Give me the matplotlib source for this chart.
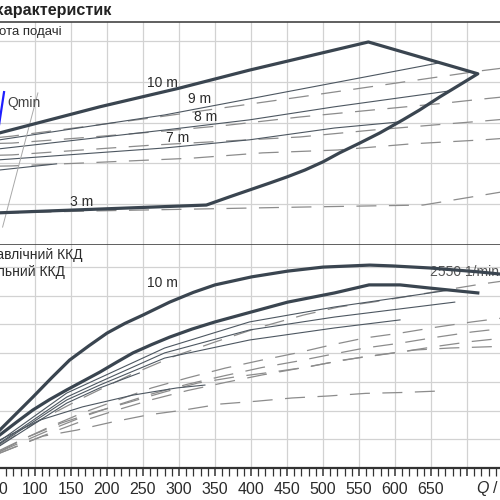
import matplotlib
matplotlib.use('Agg')
import matplotlib.pyplot as plt
from matplotlib.ticker import MultipleLocator

plt.rcParams['font.family'] = ['Liberation Sans', 'DejaVu Sans']
plt.rcParams['mathtext.fontset'] = 'custom'
plt.rcParams['mathtext.rm'] = 'Liberation Sans'
plt.rcParams['mathtext.it'] = 'Liberation Sans:italic'

#-----------------------------------------------------------------------------
## Upper panel (head), one unit per grid line
#-----------------------------------------------------------------------------
env_q = [0, 51, 190, 301, 398, 563, 715, 690, 662, 634, 611, 579, 551, 523, 500, 475,
         450, 426, 398, 370, 338, 51, 0]
env_h = [2.50, 2.75, 3.39, 3.85, 4.29, 4.98, 4.20, 3.93, 3.63, 3.31, 3.07, 2.75, 2.50, 2.26,
         2.04, 1.84, 1.67, 1.52, 1.35, 1.18, 0.98, 0.79, 0.74]

h9_q = [0, 51, 280, 516, 662]
h9_h = [2.45, 2.58, 3.19, 3.98, 4.47]
h8_q = [0, 51, 280, 398, 516, 676]
h8_h = [2.27, 2.36, 2.82, 3.07, 3.39, 3.78]
h7_q = [0, 51, 280, 398, 516, 607]
h7_h = [2.02, 2.09, 2.38, 2.58, 2.87, 3.02]
h6_q = [0, 51, 130]
h6_h = [1.78, 1.84, 1.99]

d1_q = [0, 68, 263, 468, 718, 800]
d1_h = [2.55, 2.67, 3.12, 3.63, 4.27, 4.45]
d2_q = [0, 68, 165, 263, 368, 468, 568, 669, 721, 800]
d2_h = [2.47, 2.50, 2.63, 2.77, 2.94, 3.14, 3.31, 3.48, 3.58, 3.72]
d3_q = [0, 68, 165, 263, 468, 569, 672, 722, 800]
d3_h = [2.18, 2.21, 2.33, 2.45, 2.65, 2.82, 2.97, 3.04, 3.16]
d4_q = [0, 68, 165, 318, 416, 520, 622, 723, 800]
d4_h = [1.92, 1.94, 2.01, 2.13, 2.26, 2.33, 2.48, 2.58, 2.68]
d5_q = [0, 165, 318, 469, 570, 639, 741, 800]
d5_h = [0.76, 0.83, 0.88, 0.93, 0.96, 0.98, 1.28, 1.45]

qmin_q = [50, 57]
qmin_h = [2.94, 3.75]
sys_q = [104, 55]
sys_h = [3.73, 0.44]

#-----------------------------------------------------------------------------
## Lower panel (efficiency, %)
#-----------------------------------------------------------------------------
hyd_q = [0, 25, 51, 75, 97, 123, 148, 175, 200, 225, 250, 287, 320, 350, 401, 451, 500,
         565, 597, 648, 718, 760]
hyd_e = [0, 6.8, 13.2, 19.2, 24.7, 31.4, 37.6, 42.6, 47.0, 50.4, 53.3, 57.8, 61.2, 63.8,
         66.6, 68.6, 70.0, 70.7, 70.4, 69.7, 68.3, 67.2]
tot_q = [0, 25, 51, 75, 97, 120, 144, 167, 190, 213, 236, 262, 287, 318, 350, 401, 451,
         516, 564, 607, 648, 715]
tot_e = [0, 5.9, 11.5, 16.1, 20.2, 23.8, 27.2, 30.3, 33.4, 36.8, 40.1, 43.0, 45.6, 48.4,
         50.9, 54.4, 57.8, 61.0, 63.8, 63.8, 62.7, 61.0]

e9_q = [0, 51, 144, 190, 280, 398, 516, 676]
e9_e = [0, 9.4, 26.1, 31.4, 41.8, 50.9, 56.1, 62.0]
e8_q = [0, 51, 144, 190, 280, 398, 516, 683]
e8_e = [0, 8.7, 24.7, 30.0, 40.1, 48.1, 52.6, 57.8]
e7_q = [0, 51, 144, 190, 280, 398, 516, 607]
e7_e = [0, 8.4, 23.7, 28.9, 38.3, 44.6, 48.8, 51.6]
e6_q = [0, 51, 144, 190, 245]
e6_e = [0, 7.7, 22.6, 27.9, 33.1]
e3_q = [0, 51, 107, 166, 236, 297, 336]
e3_e = [0, 9.8, 16.7, 21.3, 25.4, 27.9, 28.9]

f_q = [0, 51, 107, 166, 232, 294, 350, 409, 473, 522, 569, 620, 669, 720, 760]
f_e = [0, 8.0, 16.7, 24.4, 32.4, 39.0, 43.9, 48.8, 53.3, 56.1, 57.8, 59.9, 62.0, 64.1, 65.5]
g1_q = [0, 72, 120, 166, 215, 262, 312, 364, 415, 464, 512, 558, 607, 658, 707, 760]
g1_e = [0, 8.7, 14.3, 19.2, 23.7, 27.9, 31.4, 34.8, 37.6, 40.1, 42.9, 45.3, 47.0, 49.1, 50.9, 52.6]
g2_q = [0, 72, 120, 166, 215, 262, 312, 364, 415, 464, 512, 558, 607, 658, 707, 760]
g2_e = [0, 8.0, 13.2, 17.8, 22.0, 25.8, 29.2, 32.2, 35.0, 37.2, 39.6, 41.8, 43.5, 45.6, 47.4, 48.9]
g3_q = [0, 72, 120, 166, 215, 262, 312, 364, 415, 464, 512, 558, 607, 658, 707, 760]
g3_e = [0, 7.3, 12.1, 16.4, 20.3, 23.8, 27.0, 29.8, 32.4, 34.6, 36.8, 38.8, 40.4, 42.4, 44.1, 45.5]
g4_q = [0, 55, 90, 137, 183, 232, 280, 326, 377, 429, 479, 527, 579, 627, 676, 725, 760]
g4_e = [0, 6.3, 10.8, 15.7, 19.5, 23.0, 26.5, 29.6, 31.7, 33.4, 35.2, 37.6, 39.4, 41.1, 41.8, 42.2, 42.5]
low_q = [0, 51, 111, 158, 207, 257, 307, 358, 409, 457, 508, 559, 609, 659]
low_e = [0, 5.2, 11.1, 13.2, 16.0, 18.5, 20.2, 22.3, 23.3, 24.4, 25.1, 26.0, 26.3, 26.8]

q_ticks = list(range(0, 801, 50))
q_labels = [str(q) if 50 <= q <= 650 else '' for q in q_ticks]

#-----------------------------------------------------------------------------
## Figure
#-----------------------------------------------------------------------------
dark = '#3a4550'
thin = '#4d5761'
dash = '#8c8c8c'
grid = '#d2d2d2'
txt = '#2b2b2b'
dstyle = (0, (16, 10))

fig = plt.figure(figsize=(5, 5), dpi=100)
ax1 = fig.add_axes([-0.074, 0.51, 1.152, 0.446])
ax2 = fig.add_axes([-0.074, 0.064, 1.152, 0.446])

for ax in (ax1, ax2):
    ax.set_xlim(0, 800)
    ax.set_xticks(q_ticks)
    ax.grid(True, color=grid, lw=0.9)
    ax.set_axisbelow(True)
    ax.spines['left'].set_visible(False)
    ax.spines['right'].set_visible(False)
    ax.tick_params(axis='y', length=0, labelleft=False)

ax1.set_ylim(0, 5.47)
ax1.set_yticks([1, 2, 3, 4, 5])
ax1.tick_params(axis='x', length=0, labelbottom=False)
ax1.spines['top'].set_color('#444444')
ax1.spines['top'].set_linewidth(1.2)
ax1.spines['bottom'].set_color('#444444')
ax1.spines['bottom'].set_linewidth(1.2)

ax2.set_ylim(0, 77.7)
ax2.set_yticks([10, 20, 30, 40, 50, 60, 70])
ax2.spines['top'].set_visible(False)
ax2.spines['bottom'].set_color('#333333')
ax2.spines['bottom'].set_linewidth(1.6)
ax2.set_xticklabels(q_labels, fontsize=11.5, color=txt)
ax2.xaxis.set_minor_locator(MultipleLocator(10))
ax2.tick_params(axis='x', which='major', length=6, width=1.1, color='#333333', pad=4)
ax2.tick_params(axis='x', which='minor', length=6, width=0.9, color='#333333')

# upper panel curves
for q, h in [(d1_q, d1_h), (d2_q, d2_h), (d3_q, d3_h), (d4_q, d4_h), (d5_q, d5_h)]:
    ax1.plot(q, h, color=dash, lw=0.9, ls=dstyle)
for q, h in [(h9_q, h9_h), (h8_q, h8_h), (h7_q, h7_h), (h6_q, h6_h)]:
    ax1.plot(q, h, color=thin, lw=0.8)
ax1.plot(sys_q, sys_h, color='#a8a8a8', lw=0.7)
ax1.plot(env_q, env_h, color=dark, lw=2.3, solid_joinstyle='round')
ax1.plot(qmin_q, qmin_h, color='#1f1fff', lw=1.6)

ax1.text(277, 3.98, '10 m', ha='center', va='center', fontsize=10, color=txt)
ax1.text(329, 3.58, '9 m', ha='center', va='center', fontsize=10, color=txt)
ax1.text(337, 3.14, '8 m', ha='center', va='center', fontsize=10, color=txt)
ax1.text(298, 2.63, '7 m', ha='center', va='center', fontsize=10, color=txt)
ax1.text(165, 1.06, '3 m', ha='center', va='center', fontsize=10, color=txt)
ax1.text(61, 3.48, 'Qmin', ha='left', va='center', fontsize=10, color='#444444')

# lower panel curves
for q, e in [(f_q, f_e), (g1_q, g1_e), (g2_q, g2_e), (g3_q, g3_e), (g4_q, g4_e), (low_q, low_e)]:
    ax2.plot(q, e, color=dash, lw=0.9, ls=dstyle)
for q, e in [(e9_q, e9_e), (e8_q, e8_e), (e7_q, e7_e), (e6_q, e6_e), (e3_q, e3_e)]:
    ax2.plot(q, e, color=thin, lw=0.8)
ax2.text(648, 68.3, '2550 1/min', ha='left', va='center', fontsize=10, color='#555555', zorder=1.5)
ax2.plot(hyd_q, hyd_e, color=dark, lw=2.3, solid_joinstyle='round')
ax2.plot(tot_q, tot_e, color=dark, lw=2.3, solid_joinstyle='round')
ax2.text(277, 64.5, '10 m', ha='center', va='center', fontsize=10, color=txt)
ax2.text(712, -0.0897, '$Q$ / l/min', transform=ax2.get_xaxis_transform(),
         ha='left', va='center', fontsize=11.5, color=txt)

# panel headings
fig.text(0.222, 0.98, 'Графік характеристик', ha='right', va='center',
         fontsize=11.6, fontweight='bold', color='#222222')
fig.text(0.124, 0.936, 'Висота подачі', ha='right', va='center', fontsize=9.5, color=txt)
fig.text(0.166, 0.49, 'Гідравлічний ККД', ha='right', va='center', fontsize=10, color=txt)
fig.text(0.13, 0.456, 'Загальний ККД', ha='right', va='center', fontsize=10, color=txt)

fig.savefig('out.png', dpi=100, facecolor='white')
